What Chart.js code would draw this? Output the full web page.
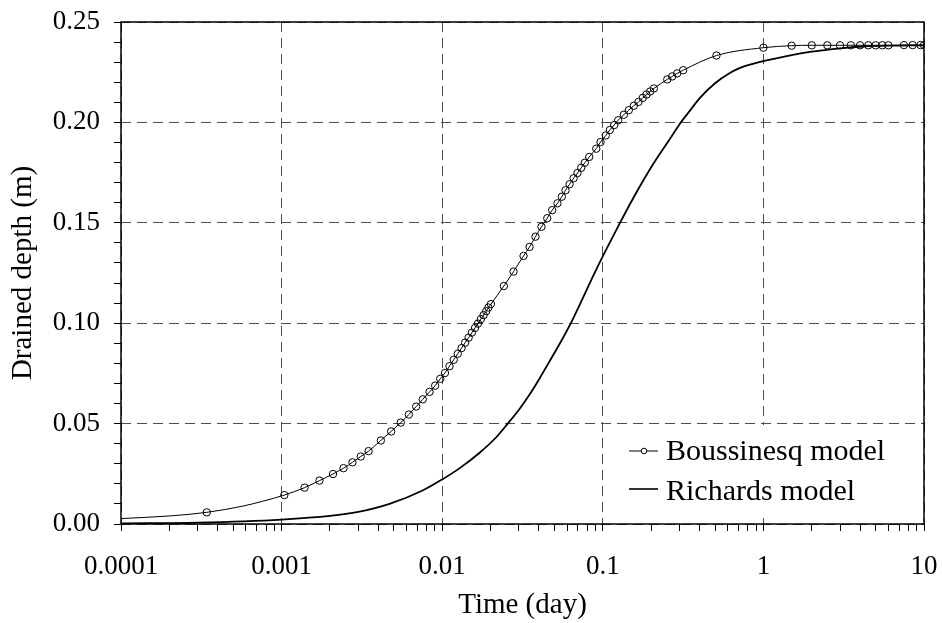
<!DOCTYPE html>
<html>
<head>
<meta charset="utf-8">
<script src="https://cdn.jsdelivr.net/npm/chart.js@4.4.0/dist/chart.umd.min.js"></script>
<style>
  html, body { margin: 0; padding: 0; background: #fff; }
  canvas { display: block; }
</style>
</head>
<body>
<canvas id="graficoDrenagem" width="942" height="623"></canvas>
<script>
const seriesNames = ["Boussinesq model", "Richards model"];

// Boussinesq: tempo (dia) e profundidade drenada (m); bousMarker = 1 onde há círculo
const bousTime = [
  0.0001, 0.0002, 0.000342, 0.000573, 0.00076, 0.00104, 0.00139, 0.00172, 0.00209, 0.00243,
  0.00276, 0.00311, 0.00348, 0.00415, 0.00481, 0.00552, 0.0062, 0.00689, 0.00757, 0.00834,
  0.00904, 0.00972, 0.0104, 0.0111, 0.0118, 0.0125, 0.0132, 0.0139, 0.0146, 0.0153,
  0.0160, 0.0167, 0.0174, 0.0181, 0.0188, 0.0194, 0.0201, 0.0242, 0.0278, 0.0321,
  0.035, 0.0381, 0.0415, 0.0451, 0.0484, 0.0522, 0.0556, 0.0586, 0.0621, 0.0658,
  0.0696, 0.0734, 0.0773, 0.0823, 0.091, 0.0968, 0.1044, 0.1106, 0.1178, 0.1247,
  0.1352, 0.1452, 0.156, 0.1668, 0.1774, 0.187, 0.1973, 0.208, 0.252, 0.2705,
  0.2905, 0.3166, 0.51, 1.0, 1.5, 2, 2.5, 3, 3.5, 4,
  4.5, 5, 5.5, 6, 7.5, 8.5, 9.5, 10
];
const bousDepth = [
  0.0027, 0.0040, 0.0058, 0.0089, 0.0113, 0.0144, 0.0181, 0.0216, 0.0249, 0.0278,
  0.0307, 0.0336, 0.0363, 0.0416, 0.0461, 0.0505, 0.0545, 0.0585, 0.0621, 0.0658,
  0.0689, 0.0723, 0.0752, 0.0786, 0.0818, 0.0848, 0.0876, 0.0903, 0.0928, 0.0953,
  0.0976, 0.0998, 0.1020, 0.1040, 0.1060, 0.1078, 0.1095, 0.1185, 0.1257, 0.1335,
  0.1380, 0.1431, 0.1480, 0.1523, 0.1563, 0.1597, 0.1630, 0.1662, 0.1692, 0.1722,
  0.1748, 0.1774, 0.1799, 0.1828, 0.1869, 0.1902, 0.1935, 0.1962, 0.1987, 0.2011,
  0.2038, 0.2061, 0.2083, 0.2102, 0.2122, 0.2139, 0.2154, 0.2169, 0.2214, 0.2229,
  0.2244, 0.2260, 0.2333, 0.2372, 0.2382, 0.2384, 0.2384, 0.2384, 0.2384, 0.2384,
  0.2384, 0.2384, 0.2384, 0.2384, 0.2385, 0.2385, 0.2385, 0.2385
];
const bousMarker = [
  0, 0, 1, 0, 0, 1, 1, 1, 1, 1,
  1, 1, 1, 1, 1, 1, 1, 1, 1, 1,
  1, 1, 1, 1, 1, 1, 1, 1, 1, 1,
  1, 1, 1, 1, 1, 1, 1, 1, 1, 1,
  1, 1, 1, 1, 1, 1, 1, 1, 1, 1,
  1, 1, 1, 1, 1, 1, 1, 1, 1, 1,
  1, 1, 1, 1, 1, 1, 1, 1, 1, 1,
  1, 1, 1, 1, 1, 1, 1, 1, 1, 1,
  1, 1, 1, 1, 1, 1, 1, 1
];

// Richards: curva contínua
const richTime = [
  0.0001, 0.0003, 0.001, 0.002, 0.003, 0.0047, 0.0076, 0.01, 0.0128, 0.0171,
  0.0217, 0.0256, 0.0303, 0.035, 0.0404, 0.0466, 0.0537, 0.0635, 0.0751, 0.0867,
  0.101, 0.127, 0.154, 0.205, 0.273, 0.30, 0.35, 0.40, 0.50, 0.60,
  0.71, 1.0, 1.4, 2.0, 3.0, 4.2, 6.0, 10
];
const richDepth = [
  0.0003, 0.0007, 0.0022, 0.0040, 0.0060, 0.0100, 0.0168, 0.0222, 0.0277, 0.0355,
  0.0432, 0.0500, 0.0573, 0.0645, 0.0725, 0.0810, 0.0895, 0.1003, 0.1125, 0.1232,
  0.1340, 0.1495, 0.1620, 0.1790, 0.1940, 0.1990, 0.2060, 0.2120, 0.2195, 0.2240,
  0.2270, 0.2305, 0.2330, 0.2352, 0.2369, 0.2378, 0.2382, 0.2384
];

const xTickValues = [0.0001, 0.001, 0.01, 0.1, 1, 10];
const xTickLabels = ["0.0001", "0.001", "0.01", "0.1", "1", "10"];
const yTickValues = [0, 0.05, 0.10, 0.15, 0.20, 0.25];
const yTickLabels = ["0.00", "0.05", "0.10", "0.15", "0.20", "0.25"];

const fonte = "'Liberation Serif', 'DejaVu Serif', serif";
const corGrade = "#4d4d4d";

function idxDecada(v) { return xTickValues.findIndex(d => Math.abs(v / d - 1) < 1e-6); }
function idxY(v) { return yTickValues.findIndex(d => Math.abs(v - d) < 1e-6); }
function semPadding(s) { s.paddingLeft = 0; s.paddingRight = 0; s.paddingTop = 0; s.paddingBottom = 0; }

// moldura do gráfico + legenda interna
const molduraPlugin = {
  id: "moldura",
  afterDatasetsDraw(chart) {
    const { ctx, chartArea: a } = chart;
    const x0 = a.right - 317, y0 = a.bottom - 99;
    ctx.save();
    ctx.fillStyle = "#fff";
    ctx.fillRect(x0, y0, a.right - x0, 88);
    ctx.strokeStyle = "#000";
    ctx.lineWidth = 1;
    // Boussinesq
    ctx.beginPath();
    ctx.moveTo(a.right - 295, a.bottom - 73);
    ctx.lineTo(a.right - 266, a.bottom - 73);
    ctx.stroke();
    ctx.beginPath();
    ctx.arc(a.right - 280, a.bottom - 73, 2.8, 0, Math.PI * 2);
    ctx.fillStyle = "#fff";
    ctx.fill();
    ctx.stroke();
    // Richards
    ctx.lineWidth = 1.6;
    ctx.beginPath();
    ctx.moveTo(a.right - 295, a.bottom - 35);
    ctx.lineTo(a.right - 266, a.bottom - 35);
    ctx.stroke();
    ctx.fillStyle = "#000";
    ctx.font = "30px " + fonte;
    ctx.textBaseline = "alphabetic";
    ctx.fillText(seriesNames[0], a.right - 258, a.bottom - 64);
    ctx.fillText(seriesNames[1], a.right - 258, a.bottom - 24);
    ctx.restore();
  },
  afterDraw(chart) {
    const { ctx, chartArea: a } = chart;
    ctx.save();
    ctx.strokeStyle = "#000";
    ctx.lineWidth = 1.5;
    ctx.strokeRect(a.left, a.top, a.right - a.left, a.bottom - a.top);
    ctx.restore();
  }
};

new Chart(document.getElementById("graficoDrenagem"), {
  type: "scatter",
  data: {
    datasets: [
      {
        label: seriesNames[0],
        data: bousTime.map((t, i) => ({ x: t, y: bousDepth[i] })),
        showLine: true,
        borderColor: "#000",
        borderWidth: 1,
        cubicInterpolationMode: "monotone",
        pointRadius: bousMarker.map(m => (m ? 3.7 : 0)),
        pointBorderWidth: 1,
        pointBorderColor: "#000",
        pointBackgroundColor: "rgba(0,0,0,0)",
      },
      {
        label: seriesNames[1],
        data: richTime.map((t, i) => ({ x: t, y: richDepth[i] })),
        showLine: true,
        borderColor: "#000",
        borderWidth: 1.8,
        cubicInterpolationMode: "monotone",
        pointRadius: 0,
      },
    ],
  },
  options: {
    responsive: false,
    animation: false,
    events: [],
    layout: { padding: { top: 22, right: 18, left: 0, bottom: 0 } },
    plugins: { legend: { display: false }, tooltip: { enabled: false } },
    scales: {
      x: {
        type: "logarithmic",
        min: 0.0001,
        max: 10,
        afterFit: s => { s.height = 99; semPadding(s); },
        afterBuildTicks: s => {
          const ticks = [];
          for (let e = -4; e <= 0; e++) {
            for (let m = 1; m <= 9; m++) ticks.push({ value: m * Math.pow(10, e) });
          }
          ticks.push({ value: 10 });
          s.ticks = ticks;
        },
        border: { display: false, dash: [10, 6] },
        grid: {
          color: c => (c.tick && idxDecada(c.tick.value) >= 0 ? corGrade : "rgba(0,0,0,0)"),
          lineWidth: 1,
          tickColor: "#000",
          tickLength: 7,
          tickBorderDash: [],
        },
        ticks: {
          autoSkip: false,
          maxRotation: 0,
          padding: 20,
          color: "#000",
          font: { family: fonte, size: 27 },
          callback: v => {
            const i = idxDecada(v);
            return i >= 0 ? xTickLabels[i] : "";
          },
        },
        title: {
          display: true,
          text: "Time (day)",
          color: "#000",
          font: { family: fonte, size: 29 },
          padding: { top: 0, bottom: 0 },
        },
      },
      y: {
        min: 0,
        max: 0.25,
        afterFit: s => { s.width = 121; semPadding(s); },
        afterBuildTicks: s => {
          const ticks = [];
          for (let k = 0; k <= 25; k++) ticks.push({ value: k / 100 });
          s.ticks = ticks;
        },
        border: { display: false, dash: [10, 6] },
        grid: {
          color: c => (c.tick && idxY(c.tick.value) >= 0 ? corGrade : "rgba(0,0,0,0)"),
          lineWidth: 1,
          tickColor: "#000",
          tickLength: 7,
          tickBorderDash: [],
        },
        ticks: {
          autoSkip: false,
          padding: 14,
          color: "#000",
          font: { family: fonte, size: 27 },
          callback: v => {
            const i = idxY(v);
            return i >= 0 ? yTickLabels[i] : "";
          },
        },
        title: {
          display: true,
          text: "Drained depth (m)",
          color: "#000",
          font: { family: fonte, size: 29 },
          padding: { top: 6, bottom: 0 },
        },
      },
    },
  },
  plugins: [molduraPlugin],
});
</script>
</body>
</html>
